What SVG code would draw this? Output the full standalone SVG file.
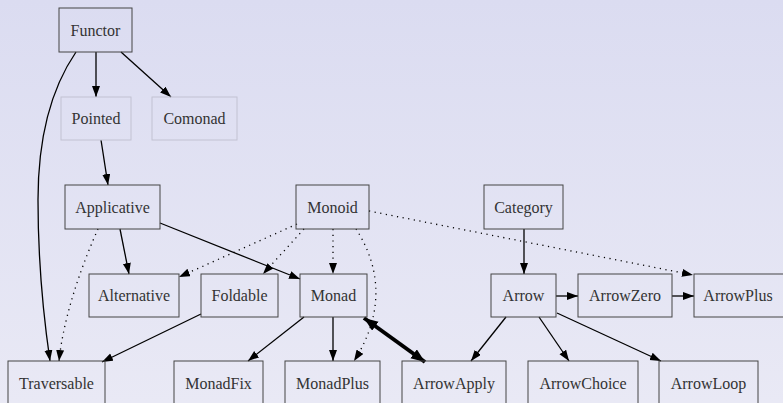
<svg xmlns="http://www.w3.org/2000/svg" width="783" height="403" viewBox="0 0 783 403">
<defs>
<linearGradient id="bg" x1="0" y1="0" x2="0" y2="1">
<stop offset="0" stop-color="#dbdcf1"/>
<stop offset="1" stop-color="#e9e9f5"/>
</linearGradient>
<marker id="ah" markerUnits="userSpaceOnUse" markerWidth="12" markerHeight="9" refX="11" refY="4" orient="auto">
<path d="M0,0 L11,4 L0,8 z" fill="#000"/>
</marker>
<marker id="ahT" markerUnits="userSpaceOnUse" markerWidth="16" markerHeight="12" refX="14" refY="5.5" orient="auto-start-reverse">
<path d="M0,0 L14,5.5 L0,11 z" fill="#000"/>
</marker>
</defs>
<style>
.box{fill:none;stroke:#444;stroke-width:1}
.faint{fill:none;stroke:#c2c2d2;stroke-width:1}
.lbl{font-size:16px;fill:#333;text-anchor:middle}
.e{fill:none;stroke:#000;stroke-width:1.3;marker-end:url(#ah)}
.d{fill:none;stroke:#000;stroke-width:1.3;stroke-dasharray:1.2 4.5;marker-end:url(#ah)}
.t{fill:none;stroke:#000;stroke-width:4;marker-end:url(#ahT);marker-start:url(#ahT)}
</style>
<rect x="0" y="0" width="783" height="403" fill="url(#bg)"/>
<g id="connectors">
<path class="e" d="M96,52 L96,97"/>
<path class="e" d="M121,52 L171,97"/>
<path class="e" d="M76,52 C50,90 38,140 38,200 C38,260 44,320 50,361"/>
<path class="e" d="M101,140 L108,185"/>
<path class="e" d="M120,229 L129,274"/>
<path class="e" d="M160,223 L300,279"/>
<path class="d" d="M98,229 C85,258 64,312 59,361"/>
<path class="d" d="M297,224 L179,277"/>
<path class="d" d="M304,229 L263,274"/>
<path class="d" d="M333,229 L333,274"/>
<path class="d" d="M356,229 C375,258 390,305 354,361"/>
<path class="d" d="M369,211 L693,275"/>
<path class="e" d="M524,229 L524,274"/>
<path class="e" d="M556,296 L578,296"/>
<path class="e" d="M672,296 L694,296"/>
<path class="e" d="M201,314 L102,362"/>
<path class="e" d="M304,317 L248,361"/>
<path class="e" d="M333,317 L333,361"/>
<path class="t" d="M364,318 L425,362"/>
<path class="e" d="M506,317 L471,361"/>
<path class="e" d="M539,317 L569,361"/>
<path class="e" d="M557,313 L661,361"/>
</g>
<g font-family="'Liberation Serif', 'DejaVu Serif', Times, serif">
<g id="Functor"><rect class="box" x="59" y="8" width="73" height="44"/><text class="lbl" x="95.5" y="36">Functor</text></g>
<g id="Pointed"><rect class="faint" x="61" y="97" width="70" height="43"/><text class="lbl" x="96" y="124">Pointed</text></g>
<g id="Comonad"><rect class="faint" x="152" y="97" width="85" height="43"/><text class="lbl" x="194.5" y="124">Comonad</text></g>
<g id="Applicative"><rect class="box" x="65" y="185" width="95" height="44"/><text class="lbl" x="112.5" y="213">Applicative</text></g>
<g id="Monoid"><rect class="box" x="296" y="185" width="73" height="44"/><text class="lbl" x="332.5" y="213">Monoid</text></g>
<g id="Category"><rect class="box" x="484" y="185" width="79" height="44"/><text class="lbl" x="523.5" y="213">Category</text></g>
<g id="Alternative"><rect class="box" x="89" y="274" width="90" height="43"/><text class="lbl" x="134" y="301">Alternative</text></g>
<g id="Foldable"><rect class="box" x="201" y="274" width="77" height="43"/><text class="lbl" x="239.5" y="301">Foldable</text></g>
<g id="Monad"><rect class="box" x="300" y="274" width="67" height="43"/><text class="lbl" x="333.5" y="301">Monad</text></g>
<g id="Arrow"><rect class="box" x="491" y="274" width="65" height="43"/><text class="lbl" x="523.5" y="301">Arrow</text></g>
<g id="ArrowZero"><rect class="box" x="578" y="274" width="94" height="43"/><text class="lbl" x="625" y="301">ArrowZero</text></g>
<g id="ArrowPlus"><rect class="box" x="694" y="274" width="100" height="43"/><text class="lbl" x="738" y="301">ArrowPlus</text></g>
<g id="Traversable"><rect class="box" x="8" y="361" width="97" height="44"/><text class="lbl" x="56.5" y="389">Traversable</text></g>
<g id="MonadFix"><rect class="box" x="174" y="361" width="89" height="44"/><text class="lbl" x="218.5" y="389">MonadFix</text></g>
<g id="MonadPlus"><rect class="box" x="285" y="361" width="95" height="44"/><text class="lbl" x="332.5" y="389">MonadPlus</text></g>
<g id="ArrowApply"><rect class="box" x="402" y="361" width="104" height="44"/><text class="lbl" x="454" y="389">ArrowApply</text></g>
<g id="ArrowChoice"><rect class="box" x="528" y="361" width="110" height="44"/><text class="lbl" x="583" y="389">ArrowChoice</text></g>
<g id="ArrowLoop"><rect class="box" x="659" y="361" width="99" height="44"/><text class="lbl" x="708.5" y="389">ArrowLoop</text></g>
</g>
</svg>
